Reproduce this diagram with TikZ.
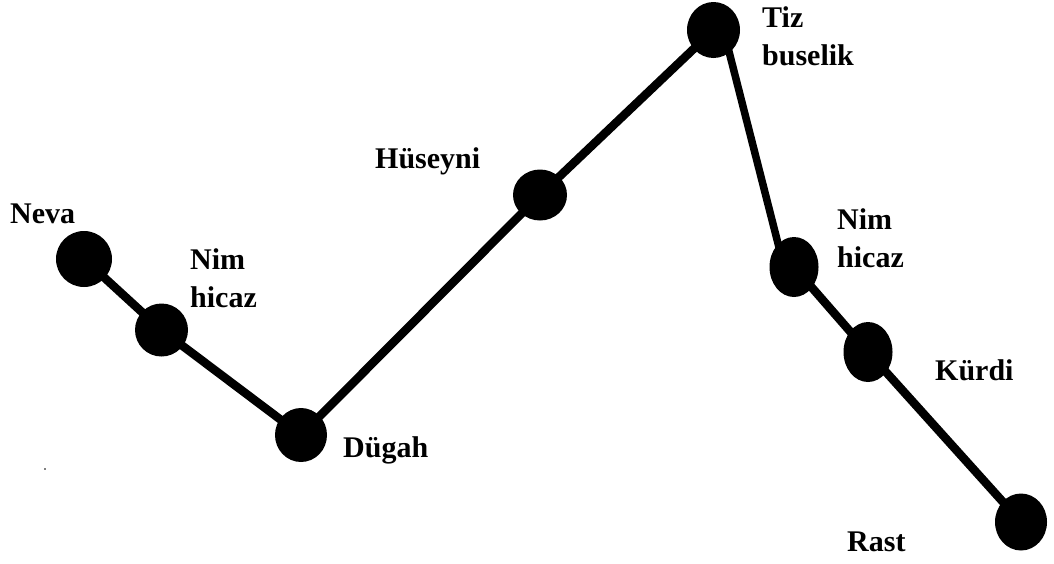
\documentclass[tikz,border=0pt]{standalone}
\usepackage{fontspec}
\setmainfont{Liberation Serif}
\usetikzlibrary{shapes.geometric}
\begin{document}
\begin{tikzpicture}[x=1pt,y=-1pt,
  dot/.style={ellipse,fill=black,draw=none,inner sep=0pt},
  link/.style={line width=8.5pt,black},
  lbl/.style={font=\bfseries\fontsize{30}{38}\selectfont,anchor=base west,inner sep=0pt,align=left}]
\useasboundingbox[fill=white] (0,0) rectangle (1054,563);
% dots
\node[dot,minimum width=56pt,minimum height=56pt] (neva) at (84,259) {};
\node[dot,minimum width=53pt,minimum height=53pt] (nim1) at (161.5,330) {};
\node[dot,minimum width=52pt,minimum height=54pt] (dugah) at (301,435) {};
\node[dot,minimum width=54pt,minimum height=51pt] (huseyni) at (540,195) {};
\node[dot,minimum width=53pt,minimum height=56pt] (tiz) at (713.5,30) {};
\node[dot,minimum width=49pt,minimum height=60pt] (nim2) at (794,267) {};
\node[dot,minimum width=49pt,minimum height=60pt] (kurdi) at (868,352) {};
\node[dot,minimum width=52pt,minimum height=57pt] (rast) at (1021,522) {};
% connectors
\draw[link] (neva.center) -- (nim1.center) -- (dugah.center) -- (huseyni.center) -- (tiz.center);
\draw[line width=7.5pt] ([xshift=10pt]tiz.center) -- ([xshift=-10pt]nim2.center);
\draw[link] (nim2.center) -- (kurdi.center) -- (rast.center);
% labels (base anchor of a multi-line node is its last line)
\node[lbl] (lneva) at (10,223) {Neva};
\node[lbl] (lnim1) at (190,307) {Nim\\hicaz};
\node[lbl] (lhus) at (375,168) {Hüseyni};
\node[lbl] (ldug) at (343,457) {Dügah};
\node[lbl] (ltiz) at (762,65) {Tiz\\buselik};
\node[lbl] (lnim2) at (837,267) {Nim\\hicaz};
\node[lbl] (lkur) at (935,380) {Kürdi};
\node[lbl] (lrast) at (847,551) {Rast};
% stray speck
\fill[gray] (44,468) rectangle (46,470);
\end{tikzpicture}
\end{document}
